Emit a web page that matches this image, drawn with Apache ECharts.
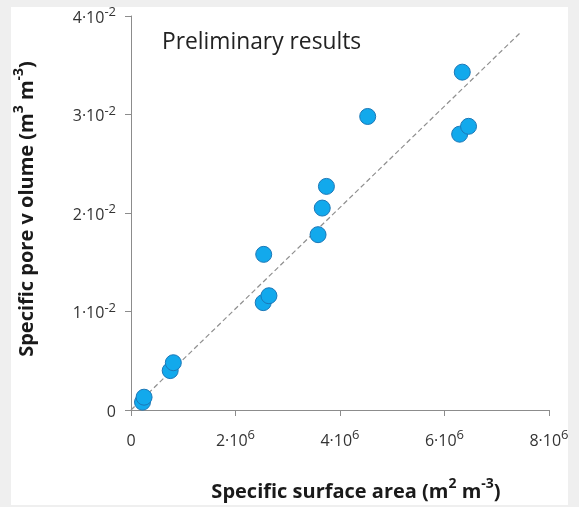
<!DOCTYPE html>
<html><head><meta charset="utf-8">
<script src="https://cdn.jsdelivr.net/npm/echarts@6/dist/echarts.min.js"></script>
<style>html,body{margin:0;padding:0;background:#efefef}#c{width:579px;height:507px}</style>
</head><body><div id="c"></div>
<script>
// Data
const surfaceArea = [0.22e6, 0.25e6, 0.75e6, 0.81e6, 2.53e6, 2.54e6, 2.64e6, 3.58e6, 3.66e6, 3.74e6, 4.53e6, 6.29e6, 6.34e6, 6.46e6];
const poreVolume  = [0.0008, 0.0013, 0.0040, 0.0048, 0.0109, 0.0158, 0.0116, 0.0178, 0.0205, 0.0227, 0.0298, 0.0280, 0.0343, 0.0288];
const fitX = [0, 7.45e6];
const fitY = [0, 0.0383];
const xTickLabels = ['0', '2·10^6', '4·10^6', '6·10^6', '8·10^6'];
const yTickLabels = ['0', '1·10^-2', '2·10^-2', '3·10^-2', '4·10^-2'];
const xTitle = ['Specific surface area (m', '2', ' m', '-3', ')'];
const yTitle = ['Specific pore v olume (m', '3', ' m', '-3', ')'];
const annotation = 'Preliminary results';

const FONT = '"Open Sans", sans-serif';
function tickRich(s) {
  const p = s.split('^');
  return p.length > 1 ? '{b|' + p[0] + '}{s|' + p[1] + '}' : '{b|' + p[0] + '}';
}
function titleRich(a) {
  return a.map((t, i) => (i % 2 === 0 ? '{b|' + t + '}' : '{s|' + t + '}')).join('');
}
const tickRichStyle = {
  b: { fontSize: 16, color: '#333', fontFamily: FONT, lineHeight: 20, verticalAlign: 'bottom' },
  s: { fontSize: 13, color: '#333', fontFamily: FONT, lineHeight: 13, verticalAlign: 'top' }
};
const titleRichStyle = {
  b: { fontSize: 20, fontWeight: 'bold', color: '#1a1a1a', fontFamily: FONT, lineHeight: 25, verticalAlign: 'bottom' },
  s: { fontSize: 14, fontWeight: 'bold', color: '#1a1a1a', fontFamily: FONT, lineHeight: 14, verticalAlign: 'top' }
};
const axisCol = '#8c8c8c';

const chart = echarts.init(document.getElementById('c'), null, { renderer: 'canvas' });
chart.setOption({
  animation: false,
  backgroundColor: '#efefef',
  graphic: [
    { type: 'rect', left: 11, top: 7, shape: { width: 557, height: 498 }, style: { fill: '#ffffff' }, z: -10 },
    { type: 'rect', left: 568, top: 0, shape: { width: 11, height: 507 }, style: { fill: '#efefef' }, z: 100 },
    { type: 'text', left: 162, top: 31, style: { text: annotation, fontSize: 22.8, fontFamily: FONT, fill: '#222' }, z: 50 }
  ],
  grid: { left: 131, right: 30, top: 16, bottom: 94, containLabel: false },
  xAxis: {
    type: 'value', min: 0, max: 8e6, interval: 2e6,
    splitLine: { show: false },
    axisLine: { show: true, onZero: false, lineStyle: { color: axisCol, width: 1 } },
    axisTick: { show: true, length: 6, lineStyle: { color: axisCol } },
    axisLabel: {
      margin: 19, showMaxLabel: true,
      formatter: v => tickRich(xTickLabels[Math.round(v / 2e6)] || ''),
      rich: tickRichStyle
    },
    name: titleRich(xTitle), nameLocation: 'middle', nameGap: 67,
    nameTextStyle: { rich: titleRichStyle, padding: [0, 0, 0, 32] }
  },
  yAxis: {
    type: 'value', min: 0, max: 0.04, interval: 0.01,
    splitLine: { show: false },
    axisLine: { show: true, lineStyle: { color: axisCol, width: 1 } },
    axisTick: { show: true, length: 6, lineStyle: { color: axisCol } },
    axisLabel: {
      margin: 15,
      formatter: v => tickRich(yTickLabels[Math.round(v / 0.01)] || ''),
      rich: tickRichStyle
    },
    name: titleRich(yTitle), nameLocation: 'middle', nameGap: 94,
    nameTextStyle: { rich: titleRichStyle, padding: [0, 0, 0, 8] }
  },
  series: [
    {
      type: 'line', data: fitX.map((x, i) => [x, fitY[i]]), symbol: 'none', silent: true,
      lineStyle: { color: '#8f8f8f', width: 1.2, type: [5, 3] }, z: 1
    },
    {
      type: 'scatter', data: surfaceArea.map((x, i) => [x, poreVolume[i]]),
      symbol: 'circle', symbolSize: 16,
      itemStyle: { color: '#12a9ec', borderColor: '#1b78b8', borderWidth: 1, opacity: 1 }, z: 3
    }
  ]
});
</script></body></html>
